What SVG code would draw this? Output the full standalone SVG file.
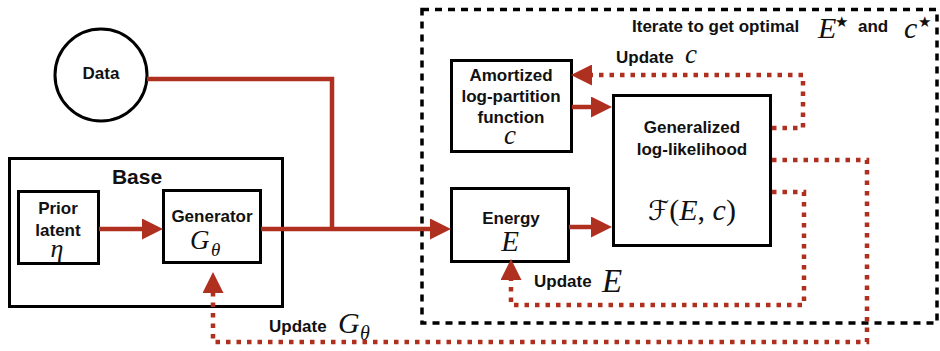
<svg xmlns="http://www.w3.org/2000/svg" width="940" height="351" viewBox="0 0 940 351">
<defs>
<style>
.box{fill:#fff;stroke:#000;stroke-width:3}
.lbl{font-family:"Liberation Sans",Arial,sans-serif;font-weight:bold;font-size:17px;fill:#111}
.mi{font-family:"Liberation Serif","Times New Roman",serif;font-style:italic;fill:#111}
.mr{font-family:"Liberation Serif","Times New Roman",serif;fill:#111}
.solid{fill:none;stroke:#b03020;stroke-width:4.5;stroke-linejoin:miter}
.dot{fill:none;stroke:#b03020;stroke-width:4.5;stroke-dasharray:4.5 6;stroke-linejoin:miter}
.star{font-family:"DejaVu Sans",sans-serif;font-size:15px;fill:#111}
</style>
<marker id="ah" viewBox="0 0 21 21" refX="0" refY="10.5" markerWidth="21" markerHeight="21" markerUnits="userSpaceOnUse" orient="auto">
<path d="M0,0 L21,10.5 L0,21 Z" fill="#b03020"/>
</marker>
</defs>

<g id="iterate-region">
<rect x="422" y="9.5" width="515" height="313.5" fill="none" stroke="#000" stroke-width="3.5" stroke-dasharray="7 6"/>
<text class="lbl" x="632" y="32">Iterate to get optimal</text>
<text class="mi" x="818" y="38" font-size="30">E</text>
<text class="star" x="835" y="27">★</text>
<text class="lbl" x="858" y="32">and</text>
<text class="mi" x="904" y="38" font-size="30">c</text>
<text class="star" x="918" y="27">★</text>
</g>

<g id="base">
<rect class="box" x="9.5" y="158.5" width="273" height="148"/>
<text class="lbl" x="137" y="184" style="font-size:21px" text-anchor="middle">Base</text>
</g>

<g id="data">
<circle cx="101" cy="75" r="46" fill="#fff" stroke="#000" stroke-width="3"/>
<text class="lbl" x="101" y="79" text-anchor="middle">Data</text>
</g>

<g id="prior">
<rect class="box" x="18.5" y="191.5" width="80" height="72"/>
<text class="lbl" x="58" y="214" text-anchor="middle">Prior</text>
<text class="lbl" x="58" y="236" text-anchor="middle">latent</text>
<text class="mi" x="57" y="257" font-size="26" text-anchor="middle">η</text>
</g>

<g id="generator">
<rect class="box" x="163.5" y="190.5" width="97" height="72"/>
<text class="lbl" x="212" y="222" text-anchor="middle">Generator</text>
<text class="mi" x="190" y="249" font-size="27">G</text>
<text class="mi" x="211" y="256" font-size="19">θ</text>
</g>

<g id="amortized">
<rect class="box" x="451.5" y="60.5" width="120" height="91"/>
<text class="lbl" x="511" y="81" text-anchor="middle">Amortized</text>
<text class="lbl" x="511" y="102" text-anchor="middle">log-partition</text>
<text class="lbl" x="511" y="123" text-anchor="middle">function</text>
<text class="mi" x="510" y="144" font-size="27" text-anchor="middle">c</text>
</g>

<g id="energy">
<rect class="box" x="451.5" y="188.5" width="117" height="73"/>
<text class="lbl" x="511" y="224" text-anchor="middle">Energy</text>
<text class="mi" x="510" y="251" font-size="29" text-anchor="middle">E</text>
</g>

<g id="likelihood">
<rect class="box" x="613.5" y="95.5" width="157" height="150"/>
<text class="lbl" x="692" y="133" text-anchor="middle">Generalized</text>
<text class="lbl" x="692" y="155" text-anchor="middle">log-likelihood</text>
<text x="692" y="220" font-size="30" text-anchor="middle" class="mr"><tspan font-family="DejaVu Serif,DejaVu Sans,serif" font-size="27">ℱ</tspan><tspan>(</tspan><tspan class="mi">E</tspan><tspan>, </tspan><tspan class="mi">c</tspan><tspan>)</tspan></text>
</g>

<g id="update-labels">
<text class="lbl" x="616" y="63">Update</text>
<text class="mi" x="685" y="63" font-size="27">c</text>
<text class="lbl" x="534" y="287">Update</text>
<text class="mi" x="602" y="292" font-size="33">E</text>
<text class="lbl" x="269" y="332">Update</text>
<text class="mi" x="338" y="333" font-size="30">G</text>
<text class="mi" x="360" y="340" font-size="20">θ</text>
</g>

<g id="connectors">
<path class="solid" d="M99,229 H142" marker-end="url(#ah)"/>
<path class="solid" d="M261,229 H430" marker-end="url(#ah)"/>
<path class="solid" d="M147,79 H332 V229"/>
<path class="solid" d="M572,107 H591" marker-end="url(#ah)"/>
<path class="solid" d="M569,227 H591" marker-end="url(#ah)"/>
<path class="dot" d="M772,128 H803 V75 H592" marker-end="url(#ah)"/>
<path class="dot" d="M772,192 H804 V305 H511 V280" marker-end="url(#ah)"/>
<path class="dot" d="M772,160 H867 V342 H213 V293" marker-end="url(#ah)"/>
</g>
</svg>
